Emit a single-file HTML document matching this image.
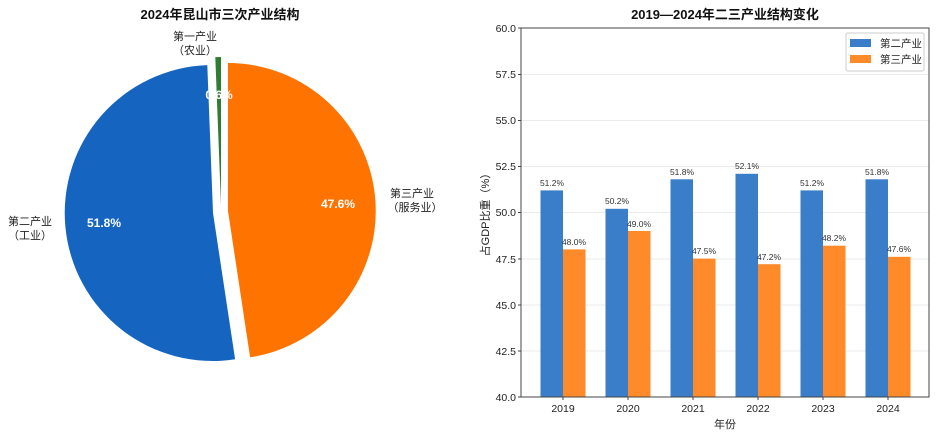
<!DOCTYPE html>
<html><head><meta charset="utf-8"><style>
html,body{margin:0;padding:0;background:#fff;}
svg{display:block;font-family:"Liberation Sans","Noto Sans CJK SC",sans-serif;}
</style></head><body>
<svg width="936" height="438" viewBox="0 0 936 438" xmlns="http://www.w3.org/2000/svg">
<rect width="936" height="438" fill="#fff"/>
<text x="220" y="19" text-anchor="middle" font-size="13" font-weight="bold" fill="#111">2024年昆山市三次产业结构</text>
<path d="M213,213 L207.3,65.1 A148,148 0 1 0 235.1,359.3 Z" fill="#1565c0"/>
<path d="M228,211 L250.1,357.3 A148,148 0 0 0 228,63 Z" fill="#ff7300"/>
<path d="M221,205 L221,57 A148,148 0 0 0 215.3,57.1 Z" fill="#2e7d32"/>
<text x="104" y="227" text-anchor="middle" font-size="12" font-weight="bold" fill="#fff">51.8%</text>
<text x="338" y="208" text-anchor="middle" font-size="12" font-weight="bold" fill="#fff">47.6%</text>
<text x="219" y="99" text-anchor="middle" font-size="12" font-weight="bold" fill="#fff">0.6%</text>
<text x="30" y="225" text-anchor="middle" font-size="11" fill="#222">第二产业</text>
<text x="30" y="239" text-anchor="middle" font-size="11" fill="#222">（工业）</text>
<text x="412" y="197" text-anchor="middle" font-size="11" fill="#222">第三产业</text>
<text x="415" y="211" text-anchor="middle" font-size="11" fill="#222">（服务业）</text>
<text x="195" y="40" text-anchor="middle" font-size="11" fill="#222">第一产业</text>
<text x="195" y="54" text-anchor="middle" font-size="11" fill="#222">（农业）</text>

<text x="725" y="19" text-anchor="middle" font-size="13" font-weight="bold" fill="#111">2019—2024年二三产业结构变化</text>
<g stroke="#ebebeb" stroke-width="1">
<line x1="521" x2="929" y1="351" y2="351"/><line x1="521" x2="929" y1="305" y2="305"/>
<line x1="521" x2="929" y1="259" y2="259"/><line x1="521" x2="929" y1="212.5" y2="212.5"/>
<line x1="521" x2="929" y1="166.5" y2="166.5"/><line x1="521" x2="929" y1="120.5" y2="120.5"/>
<line x1="521" x2="929" y1="74.5" y2="74.5"/>
</g>
<g fill="#3a7dc9">
<rect x="540.5" y="190.4" width="22.5" height="206.6"/>
<rect x="605.5" y="208.8" width="22.5" height="188.2"/>
<rect x="670.5" y="179.3" width="22.5" height="217.7"/>
<rect x="735.5" y="173.8" width="22.5" height="223.2"/>
<rect x="800.5" y="190.4" width="22.5" height="206.6"/>
<rect x="865.5" y="179.3" width="22.5" height="217.7"/>
</g>
<g fill="#ff8a2a">
<rect x="563" y="249.4" width="22.5" height="147.6"/>
<rect x="628" y="231" width="22.5" height="166"/>
<rect x="693" y="258.6" width="22.5" height="138.4"/>
<rect x="758" y="264.2" width="22.5" height="132.8"/>
<rect x="823" y="245.7" width="22.5" height="151.3"/>
<rect x="888" y="256.8" width="22.5" height="140.2"/>
</g>
<g font-size="8.5" fill="#333" text-anchor="middle">
<text x="552" y="186">51.2%</text><text x="617" y="204">50.2%</text><text x="682" y="175">51.8%</text>
<text x="747" y="169">52.1%</text><text x="812" y="186">51.2%</text><text x="877" y="175">51.8%</text>
<text x="574" y="245">48.0%</text><text x="639" y="227">49.0%</text><text x="704" y="254">47.5%</text>
<text x="769" y="260">47.2%</text><text x="834" y="241">48.2%</text><text x="899" y="252">47.6%</text>
</g>
<rect x="521" y="28" width="408" height="369" fill="none" stroke="#444" stroke-width="1"/>
<g font-size="10.5" fill="#222" text-anchor="end">
<text x="516" y="401">40.0</text><text x="516" y="355">42.5</text><text x="516" y="309">45.0</text>
<text x="516" y="263">47.5</text><text x="516" y="216">50.0</text><text x="516" y="170">52.5</text>
<text x="516" y="124">55.0</text><text x="516" y="78">57.5</text><text x="516" y="32">60.0</text>
</g>
<g stroke="#444"><line x1="518" x2="521" y1="397" y2="397"/><line x1="518" x2="521" y1="351" y2="351"/><line x1="518" x2="521" y1="305" y2="305"/><line x1="518" x2="521" y1="259" y2="259"/><line x1="518" x2="521" y1="212.5" y2="212.5"/><line x1="518" x2="521" y1="166.5" y2="166.5"/><line x1="518" x2="521" y1="120.5" y2="120.5"/><line x1="518" x2="521" y1="74.5" y2="74.5"/><line x1="518" x2="521" y1="28" y2="28"/>
<line x1="563" x2="563" y1="397" y2="400"/><line x1="628" x2="628" y1="397" y2="400"/><line x1="693" x2="693" y1="397" y2="400"/><line x1="758" x2="758" y1="397" y2="400"/><line x1="823" x2="823" y1="397" y2="400"/><line x1="888" x2="888" y1="397" y2="400"/></g>
<g font-size="10.5" fill="#222" text-anchor="middle">
<text x="563" y="412">2019</text><text x="628" y="412">2020</text><text x="693" y="412">2021</text>
<text x="758" y="412">2022</text><text x="823" y="412">2023</text><text x="888" y="412">2024</text>
</g>
<text x="725" y="428" text-anchor="middle" font-size="11" fill="#222">年份</text>
<text transform="translate(489,212) rotate(-90)" text-anchor="middle" font-size="11" fill="#222">占GDP比重（%）</text>
<rect x="846" y="33" width="78" height="38" fill="#fff" stroke="#ccc" rx="2"/>
<rect x="850" y="39" width="21" height="8" fill="#3a7dc9"/>
<rect x="850" y="55" width="21" height="8" fill="#ff8a2a"/>
<text x="880" y="47" font-size="10.5" fill="#222">第二产业</text>
<text x="880" y="63" font-size="10.5" fill="#222">第三产业</text>
</svg>
</body></html>
